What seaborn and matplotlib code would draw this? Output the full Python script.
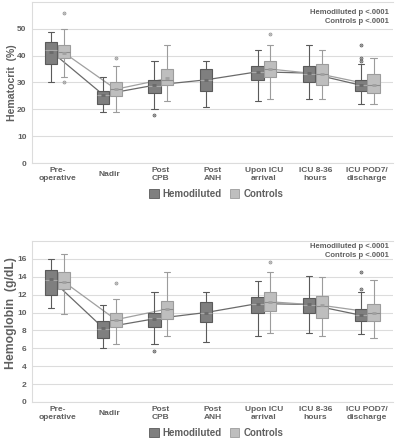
import numpy as np
import pandas as pd
import matplotlib
matplotlib.use("Agg")
import matplotlib.pyplot as plt
import matplotlib.patches as mpatches
import seaborn as sns

# categories (x axis)
times = ["Pre-\noperative", "Nadir", "Post\nCPB", "Post\nANH",
         "Upon ICU\narrival", "ICU 8-36\nhours", "ICU POD7/\ndischarge"]
groups = ["Hemodiluted", "Controls"]
nan = np.nan

# Hematocrit (%) box stats: whisker low, Q1, median, Q3, whisker high, mean
hct_hemo_lo = [30, 19, 20, 21, 23, 24, 22]
hct_hemo_q1 = [37, 22, 26, 27, 31, 30, 27]
hct_hemo_med = [42, 25.5, 28.7, 31, 34, 33, 29]
hct_hemo_q3 = [45, 27, 31, 35, 36, 36, 31]
hct_hemo_hi = [49, 32, 38, 38, 42, 44, 37]
hct_hemo_mean = [41.5, 25.5, 29, 31, 34, 33.5, 29]

hct_ctrl_lo = [32, 19, 23, nan, 24, 24, 22]
hct_ctrl_q1 = [39, 25, 29, nan, 32, 29, 26]
hct_ctrl_med = [41.3, 27.5, 31, nan, 35, 33, 29]
hct_ctrl_q3 = [44, 30, 35, nan, 38, 37, 33]
hct_ctrl_hi = [50, 36, 44, nan, 44, 42, 39]
hct_ctrl_mean = [41, 27.5, 31.5, nan, 35, 33, 29]

# outliers (time index, group, value)
hct_out_time = [0, 0, 1, 2, 4, 6, 6, 6]
hct_out_group = ["Controls", "Controls", "Controls", "Hemodiluted", "Controls",
                 "Hemodiluted", "Hemodiluted", "Hemodiluted"]
hct_out_val = [56, 30.3, 39, 18, 48, 44, 39, 38]

# Hemoglobin (g/dL)
hgb_hemo_lo = [10.5, 6.0, 6.45, 6.75, 7.4, 7.75, 7.6]
hgb_hemo_q1 = [12.0, 7.1, 8.4, 8.9, 10.0, 10.0, 9.0]
hgb_hemo_med = [13.6, 8.2, 9.35, 10.0, 11.0, 10.85, 9.7]
hgb_hemo_q3 = [14.8, 9.1, 10.0, 11.2, 11.7, 11.6, 10.4]
hgb_hemo_hi = [16.0, 10.8, 12.3, 12.3, 13.5, 14.1, 12.3]
hgb_hemo_mean = [13.7, 8.3, 9.3, 10.0, 11.0, 10.9, 9.7]

hgb_ctrl_lo = [9.8, 6.45, 7.4, nan, 7.75, 7.4, 7.1]
hgb_ctrl_q1 = [12.6, 8.4, 9.25, nan, 10.2, 9.4, 9.0]
hgb_ctrl_med = [13.4, 9.2, 10.4, nan, 11.2, 10.75, 10.0]
hgb_ctrl_q3 = [14.5, 10.0, 11.3, nan, 12.3, 11.9, 11.0]
hgb_ctrl_hi = [16.5, 11.5, 14.5, nan, 14.5, 14.0, 13.6]
hgb_ctrl_mean = [13.4, 9.2, 10.4, nan, 11.2, 10.8, 10.0]

hgb_out_time = [1, 2, 4, 6, 6]
hgb_out_group = ["Controls", "Hemodiluted", "Controls", "Hemodiluted", "Hemodiluted"]
hgb_out_val = [13.3, 5.7, 15.6, 14.5, 12.6]

# styling
face = {"Hemodiluted": "#7f7f7f", "Controls": "#bebebe"}
edge = {"Hemodiluted": "#5a5a5a", "Controls": "#9c9c9c"}
median_col = {"Hemodiluted": "#a8a8a8", "Controls": "#8c8c8c"}
line_col = {"Hemodiluted": "#6a6a6a", "Controls": "#a0a0a0"}
TXT = "#5f5f5f"
GRID = "#dcdcdc"


def long_box_data(stats_by_group):
    rows = []
    for g, stats in stats_by_group.items():
        for i, t in enumerate(times):
            vals = [s[i] for s in stats]
            if np.isnan(vals[0]):
                continue
            for v in vals:
                rows.append({"time": t, "group": g, "value": v})
    return pd.DataFrame(rows)


def draw_panel(ax, box_df, mean_df, out_df, ylabel, ylab_size, ylab_y, ymax, ystep, note_y):
    # mean lines behind the boxes
    sns.pointplot(data=mean_df, x="time", y="value", hue="group", order=times,
                  hue_order=groups, dodge=0.25, palette=line_col, errorbar=None,
                  markersize=0, linewidth=0.9, legend=False, zorder=1, ax=ax)

    for g in groups:
        sns.boxplot(data=box_df[box_df.group == g], x="time", y="value", hue="group",
                    order=times, hue_order=groups, dodge=True, width=0.5, gap=0.06,
                    whis=(0, 100), palette=face, linecolor=edge[g], linewidth=0.8,
                    fliersize=0, legend=False,
                    boxprops=dict(zorder=3), whiskerprops=dict(zorder=3),
                    capprops=dict(zorder=3),
                    medianprops=dict(color=median_col[g], zorder=4, linewidth=0.8),
                    ax=ax)

    # mean marks
    sns.pointplot(data=mean_df, x="time", y="value", hue="group", order=times,
                  hue_order=groups, dodge=0.25, palette=line_col, errorbar=None,
                  markers="_", markersize=2.5, linestyles="none", legend=False,
                  zorder=6, ax=ax)

    # outliers
    out_df = out_df.copy()
    out_df["rank"] = out_df.groupby(["time", "group"]).cumcount()
    for r, sub in out_df.groupby("rank"):
        sns.pointplot(data=sub, x="time", y="value", hue="group", order=times,
                      hue_order=groups, dodge=0.25,
                      palette={"Hemodiluted": "#666666", "Controls": "#9a9a9a"},
                      errorbar=None, markers="o", markersize=0.7, linestyles="none",
                      legend=False, zorder=6, ax=ax)

    ax.set_xlim(-0.5, len(times) - 0.5)
    ax.set_ylim(0, ymax)
    ax.set_yticks(np.arange(0, ymax, ystep))
    ax.grid(axis="y", color=GRID, linewidth=0.8)
    ax.grid(axis="x", visible=False)
    ax.set_axisbelow(True)
    for side in ["left", "bottom", "top"]:
        ax.spines[side].set_visible(True)
        ax.spines[side].set_color(GRID)
        ax.spines[side].set_linewidth(0.8)
    ax.spines["right"].set_visible(False)

    ax.set_xlabel("")
    ax.set_ylabel(ylabel, fontsize=ylab_size, fontweight="bold", color=TXT)
    ax.yaxis.set_label_coords(-0.043, ylab_y)
    ax.tick_params(axis="y", length=0, pad=4, labelsize=6, labelcolor=TXT)
    ax.tick_params(axis="x", length=0, pad=8, labelsize=6, labelcolor=TXT)
    for lab in ax.get_yticklabels():
        lab.set_fontweight("bold")
    for lab in ax.get_xticklabels():
        lab.set_fontweight("bold")
        lab.set_verticalalignment("center")

    ax.text(0.988, note_y, "Hemodiluted p <.0001\nControls p <.0001",
            transform=ax.transAxes, ha="right", va="top", fontsize=5.5,
            fontweight="bold", color=TXT, linespacing=1.35)

    handles = [mpatches.Patch(facecolor=face[g], edgecolor=edge[g], linewidth=0.6)
               for g in groups]
    ax.legend(handles, groups, loc="center", bbox_to_anchor=(0.51, -0.19),
              ncol=2, frameon=False, handlelength=1.0, handleheight=1.0,
              handletextpad=0.4, columnspacing=0.8,
              prop={"size": 7, "weight": "bold"}, labelcolor=TXT)


sns.set_theme(style="whitegrid")
plt.rcParams["font.family"] = ["Liberation Sans", "DejaVu Sans"]

fig = plt.figure(figsize=(3.96, 4.40), dpi=100)
ax1 = fig.add_axes([0.081, 0.6295, 0.911, 0.366])
ax2 = fig.add_axes([0.081, 0.0864, 0.911, 0.366])

hct_box = long_box_data({
    "Hemodiluted": [hct_hemo_lo, hct_hemo_q1, hct_hemo_med, hct_hemo_q3, hct_hemo_hi],
    "Controls": [hct_ctrl_lo, hct_ctrl_q1, hct_ctrl_med, hct_ctrl_q3, hct_ctrl_hi],
})
hct_mean = pd.DataFrame({
    "time": times * 2,
    "group": ["Hemodiluted"] * 7 + ["Controls"] * 7,
    "value": hct_hemo_mean + hct_ctrl_mean,
}).dropna()
hct_out = pd.DataFrame({"time": [times[i] for i in hct_out_time],
                        "group": hct_out_group, "value": hct_out_val})

hgb_box = long_box_data({
    "Hemodiluted": [hgb_hemo_lo, hgb_hemo_q1, hgb_hemo_med, hgb_hemo_q3, hgb_hemo_hi],
    "Controls": [hgb_ctrl_lo, hgb_ctrl_q1, hgb_ctrl_med, hgb_ctrl_q3, hgb_ctrl_hi],
})
hgb_mean = pd.DataFrame({
    "time": times * 2,
    "group": ["Hemodiluted"] * 7 + ["Controls"] * 7,
    "value": hgb_hemo_mean + hgb_ctrl_mean,
}).dropna()
hgb_out = pd.DataFrame({"time": [times[i] for i in hgb_out_time],
                        "group": hgb_out_group, "value": hgb_out_val})

draw_panel(ax1, hct_box, hct_mean, hct_out, "Hematocrit  (%)", 7.6, 0.5, 60, 10, 0.955)
draw_panel(ax2, hgb_box, hgb_mean, hgb_out, "Hemoglobin  (g/dL)", 8.8, 0.55, 18, 2, 0.985)

fig.savefig("out.png", dpi=100)
